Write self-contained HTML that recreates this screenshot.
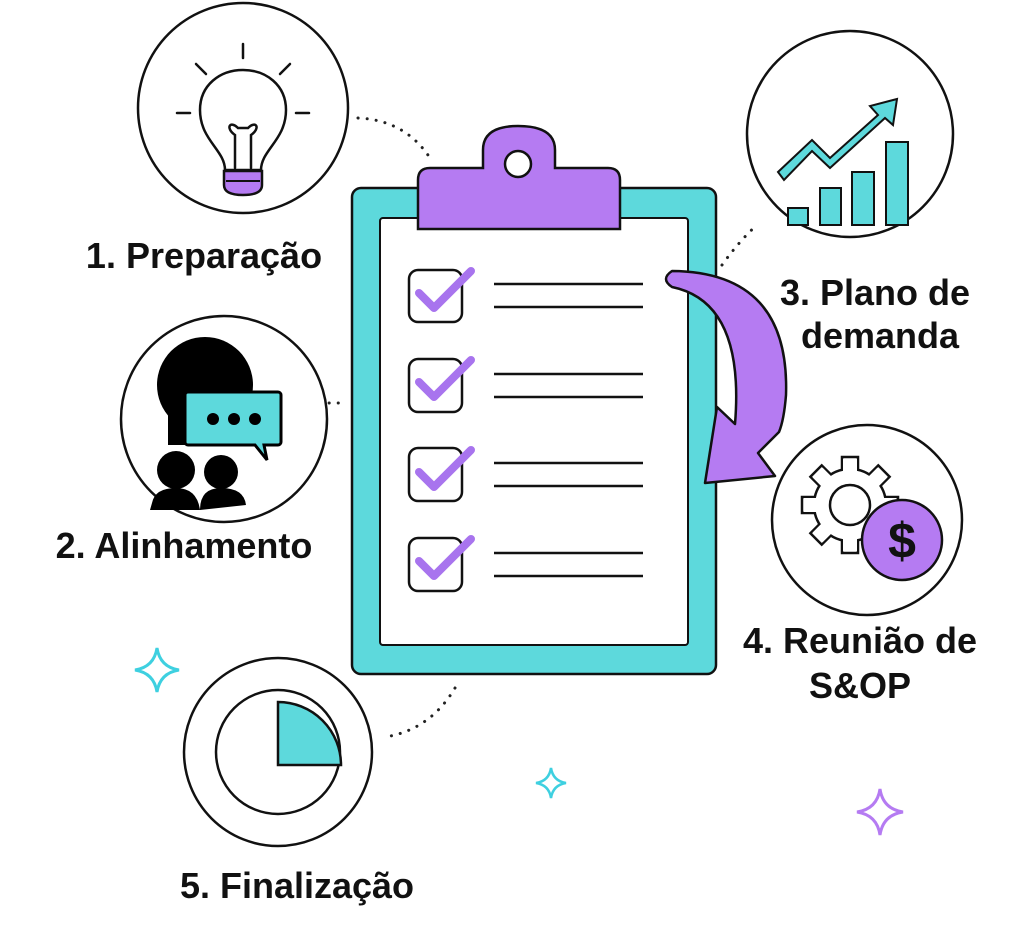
<!DOCTYPE html>
<html><head><meta charset="utf-8"><style>
html,body{margin:0;padding:0;background:#fff;}
svg{display:block}
text{font-family:"Liberation Sans",sans-serif;font-weight:bold;fill:#111;}
</style></head><body>
<svg width="1024" height="927" viewBox="0 0 1024 927" xmlns="http://www.w3.org/2000/svg">
<g fill="none" stroke="#222" stroke-width="3" stroke-linecap="round" stroke-dasharray="0.1 9">
<path d="M358,118 Q405,120 430,158"/>
<path d="M722,265 Q740,240 757,225"/>
<path d="M320,403 L340,403"/>
<path d="M455,688 Q430,730 385,737"/>
</g>
<g fill="#fff" stroke="#111" stroke-width="2.5">
<circle cx="243" cy="108" r="105"/>
<circle cx="224" cy="419" r="103"/>
<circle cx="850" cy="134" r="103"/>
<circle cx="867" cy="520" r="95"/>
<circle cx="278" cy="752" r="94"/>
</g>
<!-- bulb -->
<g stroke="#111" stroke-width="2.5" fill="none" stroke-linecap="round">
<path d="M225,170 C225,150 200,140 200,110 C200,85 220,70 243,70 C266,70 286,85 286,110 C286,140 261,150 261,170 Z" fill="#fff"/>
<path d="M235,168 L235,135 C225,128 230,120 238,128 M251,168 L251,135 C261,128 256,120 248,128 M238,128 L248,128"/>
<line x1="243" y1="44" x2="243" y2="58"/><line x1="196" y1="64" x2="206" y2="74"/><line x1="290" y1="64" x2="280" y2="74"/>
<line x1="177" y1="113" x2="190" y2="113"/><line x1="296" y1="113" x2="309" y2="113"/>
</g>
<path d="M224,171 L262,171 L262,185 Q262,195 243,195 Q224,195 224,185 Z" fill="#b57bf2" stroke="#111" stroke-width="2.5"/>
<line x1="226" y1="181" x2="260" y2="181" stroke="#111" stroke-width="2"/>
<!-- people -->
<circle cx="205" cy="385" r="48" fill="#000"/>
<rect x="168" y="385" width="55" height="60" fill="#000"/>
<path d="M188,392 h90 a3,3 0 0 1 3,3 v47 a3,3 0 0 1 -3,3 h-14 l3,15 l-12,-15 h-67 a3,3 0 0 1 -3,-3 v-47 a3,3 0 0 1 3,-3z" fill="#5dd9dc" stroke="#000" stroke-width="3"/>
<circle cx="213" cy="419" r="6" fill="#000"/><circle cx="234" cy="419" r="6" fill="#000"/><circle cx="255" cy="419" r="6" fill="#000"/>
<circle cx="176" cy="470" r="19" fill="#000"/><path d="M152,503 Q155,488 176,488 Q197,488 200,510 L150,510 Z" fill="#000"/>
<circle cx="221" cy="472" r="17" fill="#000"/><path d="M200,510 Q200,488 221,488 Q244,488 246,505 Z" fill="#000"/>
<!-- chart -->
<g fill="#5dd9dc" stroke="#111" stroke-width="2">
<rect x="788" y="208" width="20" height="17"/><rect x="820" y="188" width="21" height="37"/>
<rect x="852" y="172" width="22" height="53"/><rect x="886" y="142" width="22" height="83"/>
<path d="M778,172 L812,140 L830,158 L878,115 L870,106 L897,99 L893,125 L885,118 L830,168 L812,151 L784,180 Z"/>
</g>
<!-- gear -->
<g fill="#fff" stroke="#111" stroke-width="2.5" transform="translate(850,505)">
<rect x="-8" y="-48" width="16" height="20" transform="rotate(0)"/>
<rect x="-8" y="-48" width="16" height="20" transform="rotate(45)"/>
<rect x="-8" y="-48" width="16" height="20" transform="rotate(90)"/>
<rect x="-8" y="-48" width="16" height="20" transform="rotate(135)"/>
<rect x="-8" y="-48" width="16" height="20" transform="rotate(180)"/>
<rect x="-8" y="-48" width="16" height="20" transform="rotate(225)"/>
<rect x="-8" y="-48" width="16" height="20" transform="rotate(270)"/>
<rect x="-8" y="-48" width="16" height="20" transform="rotate(315)"/>
<circle r="36"/>
<circle r="20"/>
</g>
<g transform="translate(850,505)" fill="#fff">
<rect x="-7" y="-46" width="14" height="20" transform="rotate(0)"/>
<rect x="-7" y="-46" width="14" height="20" transform="rotate(45)"/>
<rect x="-7" y="-46" width="14" height="20" transform="rotate(90)"/>
<rect x="-7" y="-46" width="14" height="20" transform="rotate(135)"/>
<rect x="-7" y="-46" width="14" height="20" transform="rotate(180)"/>
<rect x="-7" y="-46" width="14" height="20" transform="rotate(225)"/>
<rect x="-7" y="-46" width="14" height="20" transform="rotate(270)"/>
<rect x="-7" y="-46" width="14" height="20" transform="rotate(315)"/>
<circle r="34.5"/>
<circle r="20" fill="none" stroke="#111" stroke-width="2.5"/>
</g>
<circle cx="902" cy="540" r="40" fill="#b57bf2" stroke="#111" stroke-width="2.5"/>
<text x="902" y="558" font-size="50" text-anchor="middle">$</text>
<!-- pie -->
<circle cx="278" cy="752" r="62" fill="#fff" stroke="#111" stroke-width="2.5"/>
<path d="M278,765 L278,702 A63,63 0 0 1 341,765 Z" fill="#5dd9dc" stroke="#111" stroke-width="2.5"/>
<!-- clipboard -->
<rect x="352" y="188" width="364" height="486" rx="9" fill="#5dd9dc" stroke="#111" stroke-width="2.5"/>
<rect x="380" y="218" width="308" height="427" rx="3" fill="#fff" stroke="#111" stroke-width="2"/>
<path d="M418,229 L418,180 Q418,168 430,168 L483,168 L483,150 Q483,126 518,126 Q555,126 555,150 L555,168 L608,168 Q620,168 620,180 L620,229 Z" fill="#b57bf2" stroke="#111" stroke-width="2.5"/>
<circle cx="518" cy="164" r="13" fill="#fff" stroke="#111" stroke-width="2.5"/>
<g stroke="#111" stroke-width="2.5">
<line x1="494" y1="284" x2="643" y2="284"/><line x1="494" y1="307" x2="643" y2="307"/>
<line x1="494" y1="374" x2="643" y2="374"/><line x1="494" y1="397" x2="643" y2="397"/>
<line x1="494" y1="463" x2="643" y2="463"/><line x1="494" y1="486" x2="643" y2="486"/>
<line x1="494" y1="553" x2="643" y2="553"/><line x1="494" y1="576" x2="643" y2="576"/>
</g>
<g fill="#fff" stroke="#111" stroke-width="2.5">
<rect x="409" y="270" width="53" height="52" rx="9"/><rect x="409" y="359" width="53" height="53" rx="9"/>
<rect x="409" y="448" width="53" height="53" rx="9"/><rect x="409" y="538" width="53" height="53" rx="9"/>
</g>
<g fill="none" stroke="#a874ee" stroke-width="8" stroke-linecap="round" stroke-linejoin="round">
<path d="M419,293 L434,308 L471,271"/><path d="M419,382 L434,397 L471,360"/>
<path d="M419,472 L434,487 L471,450"/><path d="M419,561 L434,576 L471,539"/>
</g>
<!-- curved arrow -->
<path d="M672,271 Q790,272 786,395 Q784,420 779,432 L758,453 L775,476 L705,483 L717,407 L735,424 Q745,302 672,287 Q660,279 672,271 Z" fill="#b57bf2" stroke="#111" stroke-width="2.5" stroke-linejoin="round"/>
<!-- sparkles -->
<path d="M157,648 Q160,667 179,670 Q160,673 157,692 Q154,673 135,670 Q154,667 157,648Z" fill="none" stroke="#3ed0e0" stroke-width="3"/>
<path d="M551,768 Q553,781 566,783 Q553,785 551,798 Q549,785 536,783 Q549,781 551,768Z" fill="none" stroke="#3ed0e0" stroke-width="2.5"/>
<path d="M880,789 Q883,809 903,812 Q883,815 880,835 Q877,815 857,812 Q877,809 880,789Z" fill="none" stroke="#b57bf2" stroke-width="3"/>
<g font-size="36">
<text x="204" y="268" text-anchor="middle">1. Preparação</text>
<text x="184" y="558" text-anchor="middle">2. Alinhamento</text>
<text x="875" y="305" text-anchor="middle">3. Plano de</text>
<text x="880" y="348" text-anchor="middle">demanda</text>
<text x="860" y="653" text-anchor="middle">4. Reunião de</text>
<text x="860" y="698" text-anchor="middle">S&amp;OP</text>
<text x="297" y="898" text-anchor="middle">5. Finalização</text>
</g>
</svg>
</body></html>
